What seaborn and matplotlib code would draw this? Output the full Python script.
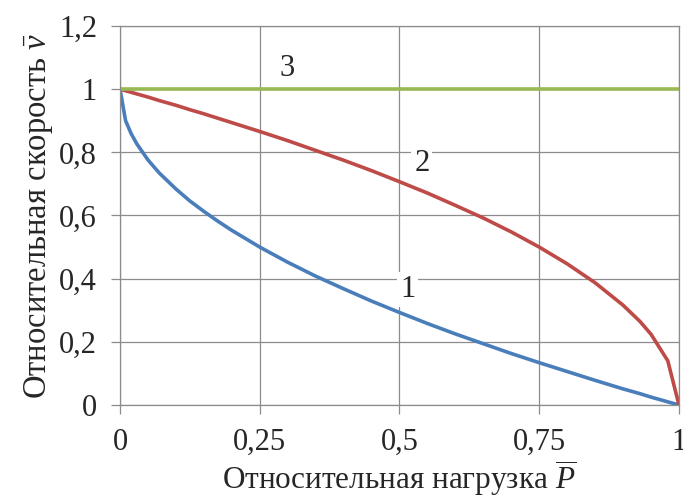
import matplotlib as mpl
mpl.use('Agg')
import matplotlib.pyplot as plt
import pandas as pd
import seaborn as sns

GRID_COLOR = '#8c8c8c'

# relative load P
load = [0, 0.01, 0.02, 0.03, 0.05, 0.07, 0.1, 0.125, 0.15, 0.175, 0.2, 0.25,
        0.3, 0.35, 0.4, 0.45, 0.5, 0.55, 0.6, 0.65, 0.7, 0.75, 0.8, 0.85,
        0.9, 0.93, 0.95, 0.98, 1.0]
# curve 1
speed_1 = [1, 0.90, 0.859, 0.827, 0.776, 0.735, 0.684, 0.646, 0.613, 0.582,
           0.553, 0.50, 0.452, 0.408, 0.368, 0.329, 0.293, 0.258, 0.225,
           0.194, 0.163, 0.134, 0.106, 0.078, 0.051, 0.036, 0.025, 0.01, 0]
# curve 2
speed_2 = [1, 0.995, 0.99, 0.985, 0.975, 0.964, 0.949, 0.935, 0.922, 0.908,
           0.894, 0.866, 0.837, 0.806, 0.775, 0.742, 0.707, 0.671, 0.632,
           0.592, 0.548, 0.50, 0.447, 0.387, 0.316, 0.265, 0.224, 0.14, 0]
# curve 3
speed_3 = [1] * len(load)

curve_names = ['1', '2', '3']
curve_colors = ['#4a7ebb', '#be4b48', '#98b954']
# label anchors (P, v) for the curve numbers
label_pos = [(0.515, 0.365), (0.54, 0.765), (0.299, 1.065)]

xticks = [0, 0.25, 0.5, 0.75, 1]
xtick_labels = ['0', '0,25', '0,5', '0,75', '1']
yticks = [0, 0.2, 0.4, 0.6, 0.8, 1.0, 1.2]
ytick_labels = ['0', '0,2', '0,4', '0,6', '0,8', '1', '1,2']

sns.set_style('white')
plt.rcParams['font.family'] = ['Liberation Serif', 'DejaVu Serif']
plt.rcParams['mathtext.fontset'] = 'custom'
plt.rcParams['mathtext.rm'] = 'Liberation Serif'
plt.rcParams['mathtext.it'] = 'Liberation Serif:italic'

df = pd.DataFrame({
    'P': load * 3,
    'v': speed_1 + speed_2 + speed_3,
    'curve': ['1'] * len(load) + ['2'] * len(load) + ['3'] * len(load),
})

fig = plt.figure(figsize=(6.83, 4.97), dpi=100)
ax = fig.add_axes([0.1757, 0.1851, 0.8184, 0.7626])

sns.lineplot(data=df, x='P', y='v', hue='curve', hue_order=curve_names,
             palette=dict(zip(curve_names, curve_colors)), lw=2.6,
             legend=False, ax=ax)

ax.set_xlim(0, 1)
ax.set_ylim(0, 1.2)
ax.set_xticks(xticks)
ax.set_xticklabels(xtick_labels)
ax.set_yticks(yticks)
ax.set_yticklabels(ytick_labels)
ax.grid(True, color=GRID_COLOR, lw=0.9)
ax.set_axisbelow(True)
for spine in ax.spines.values():
    spine.set_color(GRID_COLOR)
    spine.set_linewidth(0.9)
ax.tick_params(axis='both', direction='out', length=6.5, width=0.9,
               color=GRID_COLOR, labelsize=22, pad=10, bottom=True, left=True)

for name, (px, py) in zip(curve_names, label_pos):
    ax.text(px, py, name, fontsize=22, ha='center', va='center',
            bbox=dict(facecolor='white', edgecolor='none', pad=2))

ax.set_xlabel(r'Относительная нагрузка $\overline{P}$', fontsize=22.5, labelpad=1)
ax.set_ylabel(r'Относительная скорость $\bar{v}$', fontsize=23.5, labelpad=3)

plt.savefig('out.png', dpi=100)
